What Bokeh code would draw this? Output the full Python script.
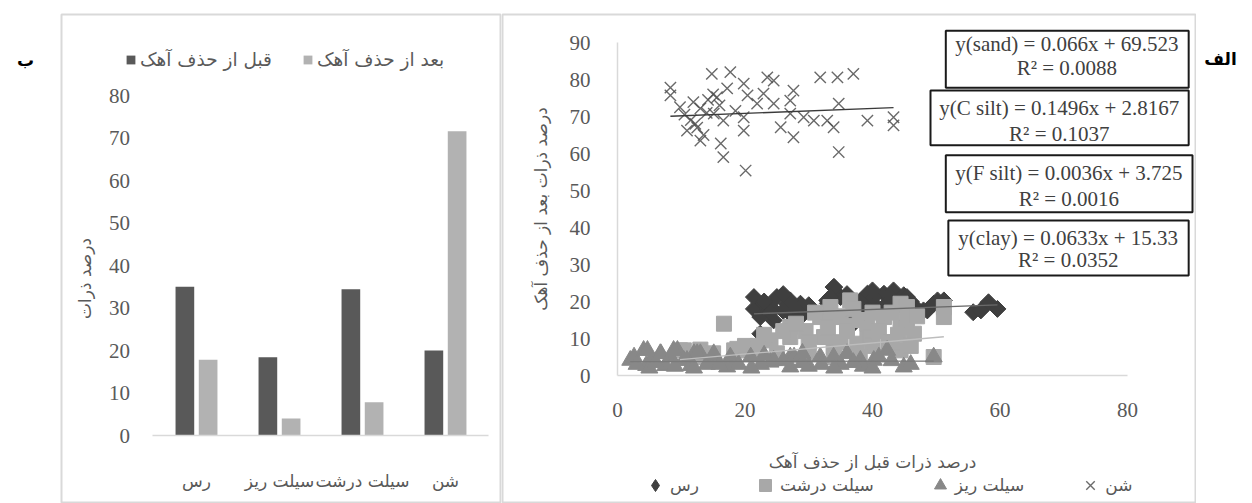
from bokeh.plotting import figure
from bokeh.models import Range1d, LinearAxis, FixedTicker, Legend, LegendItem, ColumnDataSource
from bokeh.layouts import row
from bokeh.transform import dodge
from bokeh.embed import file_html
from bokeh.resources import INLINE
from bokeh.core.properties import value

# ---------------- data: bar chart (ب) ----------------
categories = ["رس", "سیلت ریز", "سیلت درشت", "شن"]
before_removal = [35.0, 18.4, 34.4, 20.0]
after_removal = [17.8, 4.0, 7.8, 71.6]
bar_ticks = [0, 10, 20, 30, 40, 50, 60, 70, 80]

# ---------------- data: scatter (الف) ----------------
clay_x = [21.4, 21.4, 22.9, 22.4, 25.0, 26.6, 27.1, 28.7, 29.2, 24.5, 22.4, 23.3, 33.9, 35.0,
          32.9, 39.2, 40.2, 41.8, 43.3, 44.9, 39.2, 37.0, 48.0, 49.6, 50.2, 55.8, 58.2, 59.6,
          27.1, 28.7, 34.0, 33.4, 36.5, 40.2, 42.8, 45.4, 41.8, 48.6, 51.2, 57.0, 24.0, 26.0,
          23.0, 24.0, 26.0, 28.0, 30.0, 38.0, 40.0, 42.0, 44.0, 46.0, 47.0, 36.0, 33.0]
clay_y = [21.2, 18.0, 19.4, 15.8, 21.2, 19.4, 16.7, 19.4, 16.7, 14.9, 11.3, 9.9, 23.9, 21.2,
          20.3, 22.1, 19.4, 22.1, 23.0, 21.7, 17.6, 14.0, 17.6, 19.4, 20.3, 17.1, 19.8, 18.0,
          20.3, 16.7, 23.9, 21.2, 14.0, 21.2, 21.2, 21.2, 16.6, 17.6, 20.3, 17.6, 18.5, 17.5,
          20.0, 17.0, 22.0, 18.0, 19.0, 20.0, 23.0, 19.0, 19.0, 20.0, 18.0, 22.0, 19.5]

csilt_x = [16.7, 10.4, 18.3, 20.3, 24.0, 27.1, 27.1, 31.8, 33.9, 36.5, 32.4, 33.9, 39.2, 39.2,
           41.8, 44.4, 44.4, 44.4, 46.5, 49.6, 51.2, 9.8, 18.8, 33.4, 32.9, 37.6, 45.4, 45.4,
           51.2, 39.7, 22.0, 29.5, 36.0, 42.5, 14.0, 12.0, 26.0, 28.0, 30.0, 31.0, 33.0, 35.0,
           35.0, 36.0, 37.0, 38.0, 40.0, 40.0, 41.0, 43.0, 43.0, 44.0, 46.0, 47.0, 30.0, 34.0,
           38.0, 25.0, 23.0, 13.0, 15.0, 20.0, 22.0]
csilt_y = [14.0, 6.8, 6.8, 6.8, 9.5, 13.1, 10.4, 15.8, 15.8, 20.3, 10.4, 7.7, 11.3, 14.0,
           15.8, 19.4, 13.1, 6.8, 11.3, 5.0, 15.8, 6.8, 7.2, 18.5, 10.4, 8.6, 18.5, 14.6,
           18.5, 10.4, 8.0, 12.0, 13.5, 9.0, 5.5, 5.0, 12.0, 14.0, 9.0, 17.0, 13.0, 16.0,
           9.0, 12.0, 18.0, 15.0, 17.0, 8.0, 12.0, 9.0, 17.0, 11.0, 8.0, 16.0, 6.0, 5.0,
           5.0, 6.0, 11.0, 7.0, 6.0, 8.0, 7.0]

fsilt_x = [2.0, 4.1, 5.2, 6.7, 8.3, 9.4, 10.4, 12.0, 13.0, 15.1, 17.7, 20.9, 24.0, 27.1, 2.6,
           4.7, 6.8, 8.8, 10.9, 12.5, 15.1, 17.7, 17.2, 24.5, 27.1, 27.7, 31.8, 33.9, 36.0,
           38.1, 40.2, 42.3, 44.9, 49.6, 4.5, 7.5, 11.5, 14.0, 30.0, 35.0, 38.5, 29.0, 22.5,
           3.0, 5.0, 6.0, 9.0, 12.0, 16.0, 19.0, 21.0, 23.0, 26.0, 29.0, 32.0, 34.0, 37.0,
           40.0, 41.0, 43.0, 46.0]
fsilt_y = [4.1, 6.8, 4.1, 5.9, 5.0, 6.8, 4.1, 5.9, 5.9, 4.1, 4.1, 5.0, 3.6, 5.0, 5.0,
           6.8, 5.9, 6.8, 4.1, 5.9, 5.9, 5.0, 2.3, 4.1, 2.3, 5.0, 5.0, 5.0, 5.9,
           4.1, 4.1, 6.8, 2.3, 5.0, 2.7, 2.7, 2.7, 3.0, 2.5, 3.0, 2.5, 3.5, 3.0,
           3.0, 2.0, 3.5, 2.5, 2.0, 3.0, 3.0, 2.0, 5.5, 4.0, 6.0, 3.0, 2.0, 3.5,
           2.0, 5.0, 4.0, 3.0]

sand_x = [8.3, 8.3, 14.8, 17.7, 11.9, 13.0, 10.9, 13.0, 15.1, 16.6, 15.6, 15.0, 17.2, 19.8,
          20.4, 19.8, 19.8, 16.2, 16.6, 20.1, 23.5, 24.5, 22.9, 21.9, 24.5, 27.6, 27.1, 25.6,
          27.6, 27.1, 29.2, 31.8, 34.5, 37.0, 34.7, 30.8, 32.9, 33.9, 34.7, 39.2, 43.3, 43.3,
          11.5, 12.5, 14.0, 13.5, 10.5, 9.8, 16.0, 14.2, 12.2, 18.5]
sand_y = [77.8, 75.7, 81.5, 82.0, 73.9, 72.2, 66.2, 63.5, 70.8, 68.9, 75.2, 76.0, 77.6, 78.9,
          75.7, 69.8, 66.2, 62.7, 59.0, 55.4, 80.6, 79.7, 76.2, 73.5, 73.5, 77.0, 74.3, 67.1,
          64.4, 70.8, 69.8, 80.6, 80.6, 81.5, 73.5, 68.9, 68.9, 67.1, 60.4, 68.9, 69.8, 67.6,
          69.0, 67.0, 71.0, 65.0, 70.5, 72.5, 73.0, 74.5, 68.0, 71.5]

fit_names = ["sand", "C silt", "F silt", "clay"]
fit_slope = [0.066, 0.1496, 0.0036, 0.0633]
fit_intercept = [69.523, 2.8167, 3.725, 15.33]
fit_r2 = [0.0088, 0.1037, 0.0016, 0.0352]
scatter_xticks = [0, 20, 40, 60, 80]
scatter_yticks = [0, 10, 20, 30, 40, 50, 60, 70, 80, 90]

FA = "DejaVu Sans"
SERIF = "Liberation Serif"
GRAY = "#595959"
FRAME = "#d9d9d9"
FA_SIZE = "17px"


def base_figure(width, x_range, y_range, **kw):
    f = figure(width=width, height=503, x_range=x_range, y_range=y_range,
               x_axis_location=None, y_axis_location=None, toolbar_location=None,
               output_backend="svg", **kw)
    f.grid.grid_line_color = None
    f.background_fill_color = "white"
    f.border_fill_color = "white"
    return f


def style_axis(ax, font, size):
    ax.major_tick_line_color = None
    ax.minor_tick_line_color = None
    ax.major_tick_out = 0
    ax.major_tick_in = 0
    ax.major_label_text_font = font
    ax.major_label_text_font_size = size
    ax.major_label_text_color = GRAY
    ax.axis_label_text_font = FA
    ax.axis_label_text_font_style = "normal"
    ax.axis_label_text_font_size = FA_SIZE
    ax.axis_label_text_color = GRAY


# ---------------- bar chart panel ----------------
p1 = base_figure(441, Range1d(-0.6265, 4.6627), Range1d(-16.0, 99.06),
                 min_border_left=1, min_border_right=1, min_border_top=14, min_border_bottom=0)
p1.outline_line_color = FRAME
p1.outline_line_width = 2

positions = list(range(1, len(categories) + 1))
bar_src = ColumnDataSource(dict(pos=positions, before=before_removal, after=after_removal))
r_before = p1.vbar(x=dodge("pos", -0.14), top="before", width=0.225, source=bar_src,
                   fill_color="#595959", line_color=None)
r_after = p1.vbar(x=dodge("pos", 0.14), top="after", width=0.225, source=bar_src,
                  fill_color="#b2b2b2", line_color=None)

bx = LinearAxis(fixed_location=0, bounds=(0.47, 4.52), ticker=FixedTicker(ticks=positions, minor_ticks=[]),
                major_label_overrides={p: c for p, c in zip(positions, categories)})
style_axis(bx, FA, FA_SIZE)
bx.axis_line_color = FRAME
bx.axis_line_width = 1.5
bx.major_label_standoff = 35
p1.add_layout(bx, "below")

by = LinearAxis(fixed_location=0.5, bounds=(-6, 80), ticker=FixedTicker(ticks=bar_ticks, minor_ticks=[]),
                axis_label="درصد ذرات")
style_axis(by, SERIF, "21px")
by.axis_line_color = None
by.major_label_standoff = 25
by.axis_label_standoff = 11
p1.add_layout(by, "left")

leg1 = Legend(items=[LegendItem(label="قبل از حذف آهک", renderers=[r_before]),
                     LegendItem(label="بعد از حذف آهک", renderers=[r_after])],
              location=(64, 433), orientation="horizontal", padding=0, margin=0,
              spacing=30, glyph_width=11, glyph_height=11, label_standoff=4,
              border_line_color=None, background_fill_alpha=0,
              label_text_font=FA, label_text_font_size="18.5px", label_text_color=GRAY)
p1.add_layout(leg1)

# ---------------- scatter panel ----------------
p2 = base_figure(695, Range1d(-18.04, 90.67), Range1d(-34.59, 97.57),
                 min_border_left=1, min_border_right=1, min_border_top=14, min_border_bottom=0)
p2.outline_line_color = FRAME
p2.outline_line_width = 2

CLAY, CSILT, FSILT, SAND = "#3f3f3f", "#a8a8a8", "#888888", "#505050"
r_sand = p2.scatter(sand_x, sand_y, marker="x", size=16, line_color=SAND, line_width=1.4, line_alpha=0.85)
# clay: a diamond layer (used as the legend swatch) under rotated squares
r_clay = p2.scatter(clay_x, clay_y, marker="diamond", size=14, fill_color=CLAY, line_color=CLAY)
p2.scatter(clay_x, clay_y, marker="square", angle=0.785398, size=12, fill_color=CLAY, line_color=CLAY)
r_csilt = p2.scatter(csilt_x, csilt_y, marker="square", size=15, fill_color=CSILT, line_color=CSILT)
r_fsilt = p2.scatter(fsilt_x, fsilt_y, marker="triangle", size=17, fill_color=FSILT, line_color=FSILT)

# linear trend lines from the fitted equations
series_x = {"sand": sand_x, "C silt": csilt_x, "F silt": fsilt_x, "clay": clay_x}
trend_colors = {"sand": "#3a3a3a", "C silt": "#bdbdbd", "F silt": "#7a7a7a", "clay": "#6a6a6a"}
for name, a, b in zip(fit_names, fit_slope, fit_intercept):
    xs = series_x[name]
    x0, x1 = min(xs), max(xs)
    p2.line([x0, x1], [a * x0 + b, a * x1 + b], line_color=trend_colors[name], line_width=1.3)

sx = LinearAxis(fixed_location=0, bounds=(0, 80), ticker=FixedTicker(ticks=scatter_xticks, minor_ticks=[]),
                axis_label="درصد ذرات قبل از حذف آهک")
style_axis(sx, SERIF, "21px")
sx.axis_line_color = FRAME
sx.axis_line_width = 1.5
sx.major_label_standoff = 27
sx.axis_label_standoff = 32
p2.add_layout(sx, "below")

sy = LinearAxis(fixed_location=0, bounds=(0, 90), ticker=FixedTicker(ticks=scatter_yticks, minor_ticks=[]),
                axis_label="درصد ذرات بعد از حذف آهک")
style_axis(sy, SERIF, "21px")
sy.axis_line_color = FRAME
sy.axis_line_width = 1.5
sy.major_label_standoff = 27
sy.axis_label_standoff = 16
p2.add_layout(sy, "left")

# equation boxes (left, right, top, bottom, centre x, line-1 y, line-2 y) in data units
eq_boxes = [
    (51.5, 89.6, 93.2, 77.8, 70.5, 89.7, 83.0),
    (49.1, 89.6, 77.0, 62.2, 69.3, 72.2, 65.4),
    (51.5, 90.2, 59.5, 44.1, 70.8, 54.6, 47.8),
    (51.9, 89.6, 41.9, 27.0, 70.7, 37.3, 31.1),
]
for (l, r, t, btm, cx, y1, y2), name, a, b, r2 in zip(eq_boxes, fit_names, fit_slope, fit_intercept, fit_r2):
    p2.quad(left=[l], right=[r], top=[t], bottom=[btm], fill_color="white",
            line_color="#1a1a1a", line_width=2)
    p2.text(x=[cx, cx], y=[y1, y2], text=[f"y({name}) = {a}x + {b}", f"R² = {r2}"],
            text_font=value(SERIF), text_font_size="21px", text_color="#404040",
            text_align="center", text_baseline="middle")

leg2 = Legend(items=[LegendItem(label="رس", renderers=[r_clay]),
                     LegendItem(label="سیلت درشت", renderers=[r_csilt]),
                     LegendItem(label="سیلت ریز", renderers=[r_fsilt]),
                     LegendItem(label="شن", renderers=[r_sand])],
              location=(138, 3), orientation="horizontal", padding=0, margin=0,
              spacing=51, glyph_width=30, glyph_height=30, label_standoff=0,
              border_line_color=None, background_fill_alpha=0,
              label_text_font=FA, label_text_font_size=FA_SIZE, label_text_color=GRAY)
p2.add_layout(leg2)


# ---------------- panel letters ----------------
def letter_panel(width, text, x, y):
    f = base_figure(width, Range1d(0, width), Range1d(503, 0), min_border=0)
    f.outline_line_color = None
    f.text(x=[x], y=[y], text=[text], text_font=value(FA), text_font_style="bold",
           text_font_size="17px", text_color="black", text_align="center", text_baseline="middle")
    return f


fb = letter_panel(60, "ب", 25, 47)
falef = letter_panel(56, "الف", 24, 46)

layout = row(fb, p1, p2, falef)
open("out.html", "w").write(file_html(layout, INLINE))
